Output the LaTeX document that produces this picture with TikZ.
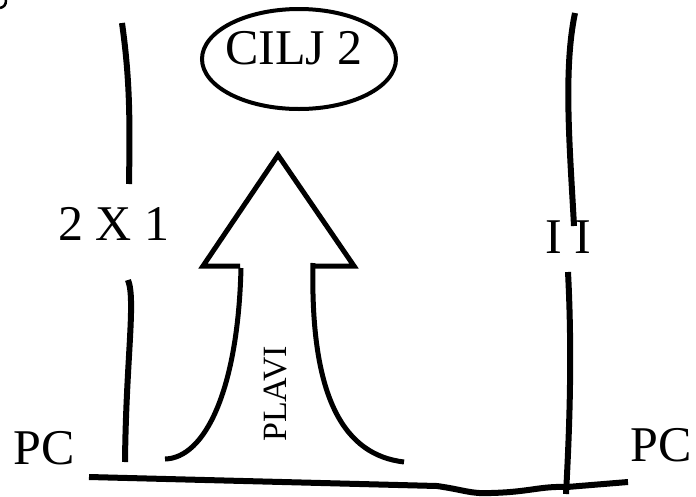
\documentclass[tikz,border=0pt]{standalone}
\usepackage{fontspec}
\setmainfont{Liberation Serif}
\usetikzlibrary{shapes.geometric}
\tikzset{
  stroke/.style={draw=black,line width=6pt},
  arrowline/.style={draw=black,line width=5pt,line join=miter},
  goalshape/.style={ellipse,draw=black,line width=4pt,minimum width=194pt,minimum height=100pt,inner sep=0pt},
  label/.style={font=\fontsize{50}{54}\selectfont,inner sep=0pt,anchor=base},
  smalllabel/.style={font=\fontsize{34}{38}\selectfont,inner sep=0pt}
}
\begin{document}
\begin{tikzpicture}[x=1pt,y=-1pt]
  \useasboundingbox (0,0) rectangle (696,496);
  % goal
  \node[goalshape] (goal) at (299,59) {};
  \node[label] (goaltxt) at (294,64) {CILJ 2};
  % side labels
  \node[label] (left) at (114,240) {2 X 1};
  \node[label] (right) at (568,253) {I I};
  \node[label] (pcl) at (44,464) {PC};
  \node[label] (pcr) at (661,461) {PC};
  \node[smalllabel,rotate=90] (plavi) at (276,394) {PLAVI};
  % walls
  \draw[stroke] (122,23) .. controls (130,80) and (130,120) .. (129,184);
  \draw[stroke] (128,280) .. controls (136,300) and (126,360) .. (125,462);
  \draw[stroke] (575,13) .. controls (563,70) and (570,150) .. (574,226);
  \draw[stroke] (568,272) .. controls (572,350) and (570,420) .. (566,494);
  % floor
  \draw[stroke] (89,477) -- (437,486) .. controls (465,490) and (470,494) .. (491,493)
    .. controls (530,492) and (540,486) .. (567,487) -- (628,482);
  % big arrow
  \draw[arrowline] (240,266) -- (203,266) -- (278,155) -- (354,266) -- (315,266);
  \draw[arrowline] (241,268) .. controls (238,390) and (205,458) .. (165,459);
  \draw[arrowline] (313,263) .. controls (310,400) and (345,455) .. (404,462);
  % corner
  \draw[line width=2.5pt] (6,0) .. controls (6,5) and (4,7) .. (0,8);
\end{tikzpicture}
\end{document}
